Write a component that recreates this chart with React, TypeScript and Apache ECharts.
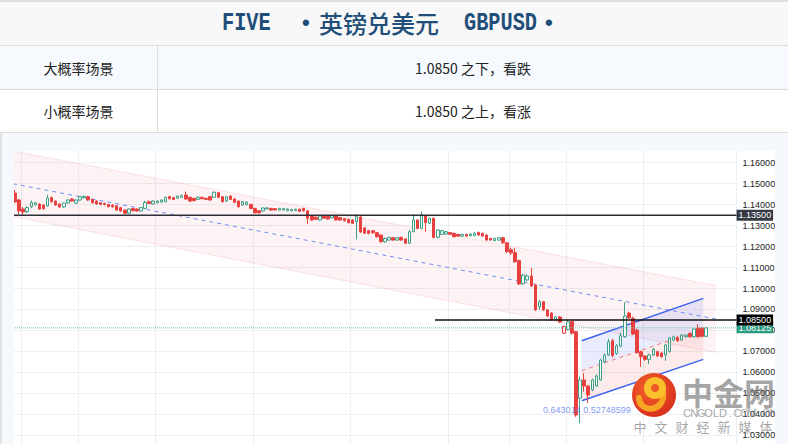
import React, { useEffect, useRef } from "react";
import * as echarts from "echarts";

// [open, close, low, high] per bar
const ohlc: number[][] = [
  [1.1455, 1.1413, 1.1410, 1.1470],
  [1.1422, 1.1370, 1.1355, 1.1427],
  [1.1379, 1.1365, 1.1351, 1.1389],
  [1.1367, 1.1386, 1.1360, 1.1392],
  [1.1390, 1.1410, 1.1385, 1.1420],
  [1.1399, 1.1409, 1.1395, 1.1413],
  [1.1403, 1.1379, 1.1375, 1.1406],
  [1.1398, 1.1380, 1.1377, 1.1402],
  [1.1394, 1.1432, 1.1390, 1.1446],
  [1.1433, 1.1414, 1.1410, 1.1440],
  [1.1417, 1.1398, 1.1394, 1.1420],
  [1.1403, 1.1389, 1.1385, 1.1406],
  [1.1389, 1.1408, 1.1385, 1.1410],
  [1.1408, 1.1422, 1.1405, 1.1425],
  [1.1427, 1.1417, 1.1415, 1.1430],
  [1.1407, 1.1422, 1.1404, 1.1425],
  [1.1422, 1.1438, 1.1418, 1.1442],
  [1.1433, 1.1438, 1.1430, 1.1445],
  [1.1438, 1.1422, 1.1418, 1.1442],
  [1.1425, 1.1409, 1.1405, 1.1428],
  [1.1417, 1.1403, 1.1400, 1.1420],
  [1.1409, 1.1401, 1.1398, 1.1412],
  [1.1406, 1.1401, 1.1396, 1.1409],
  [1.1401, 1.1390, 1.1387, 1.1404],
  [1.1398, 1.1390, 1.1385, 1.1402],
  [1.1395, 1.1374, 1.1370, 1.1398],
  [1.1385, 1.1370, 1.1366, 1.1390],
  [1.1374, 1.1359, 1.1355, 1.1377],
  [1.1359, 1.1379, 1.1356, 1.1382],
  [1.1382, 1.1371, 1.1368, 1.1385],
  [1.1379, 1.1370, 1.1366, 1.1383],
  [1.1370, 1.1386, 1.1366, 1.1389],
  [1.1382, 1.1411, 1.1378, 1.1418],
  [1.1414, 1.1406, 1.1403, 1.1420],
  [1.1403, 1.1417, 1.1400, 1.1420],
  [1.1409, 1.1417, 1.1406, 1.1420],
  [1.1412, 1.1422, 1.1409, 1.1425],
  [1.1414, 1.1435, 1.1411, 1.1438],
  [1.1438, 1.1428, 1.1425, 1.1442],
  [1.1433, 1.1425, 1.1422, 1.1436],
  [1.1430, 1.1441, 1.1427, 1.1444],
  [1.1435, 1.1444, 1.1432, 1.1447],
  [1.1446, 1.1427, 1.1423, 1.1462],
  [1.1435, 1.1417, 1.1413, 1.1438],
  [1.1430, 1.1419, 1.1415, 1.1433],
  [1.1425, 1.1435, 1.1422, 1.1438],
  [1.1435, 1.1428, 1.1425, 1.1438],
  [1.1430, 1.1425, 1.1422, 1.1433],
  [1.1438, 1.1422, 1.1419, 1.1441],
  [1.1435, 1.1459, 1.1432, 1.1463],
  [1.1457, 1.1435, 1.1432, 1.1460],
  [1.1438, 1.1414, 1.1410, 1.1441],
  [1.1417, 1.1438, 1.1413, 1.1441],
  [1.1441, 1.1425, 1.1422, 1.1444],
  [1.1427, 1.1411, 1.1408, 1.1430],
  [1.1417, 1.1390, 1.1386, 1.1420],
  [1.1398, 1.1414, 1.1395, 1.1417],
  [1.1400, 1.1412, 1.1397, 1.1416],
  [1.1401, 1.1382, 1.1378, 1.1404],
  [1.1382, 1.1361, 1.1358, 1.1385],
  [1.1371, 1.1361, 1.1357, 1.1374],
  [1.1370, 1.1384, 1.1366, 1.1387],
  [1.1380, 1.1384, 1.1377, 1.1388],
  [1.1382, 1.1374, 1.1371, 1.1385],
  [1.1381, 1.1375, 1.1372, 1.1384],
  [1.1374, 1.1382, 1.1371, 1.1385],
  [1.1375, 1.1381, 1.1372, 1.1385],
  [1.1371, 1.1379, 1.1368, 1.1382],
  [1.1371, 1.1377, 1.1368, 1.1380],
  [1.1372, 1.1378, 1.1369, 1.1381],
  [1.1378, 1.1368, 1.1365, 1.1381],
  [1.1382, 1.1371, 1.1367, 1.1385],
  [1.1370, 1.1335, 1.1308, 1.1375],
  [1.1346, 1.1327, 1.1322, 1.1350],
  [1.1340, 1.1330, 1.1327, 1.1343],
  [1.1327, 1.1346, 1.1324, 1.1349],
  [1.1346, 1.1335, 1.1332, 1.1349],
  [1.1343, 1.1332, 1.1329, 1.1346],
  [1.1337, 1.1347, 1.1334, 1.1350],
  [1.1346, 1.1327, 1.1324, 1.1349],
  [1.1338, 1.1327, 1.1324, 1.1341],
  [1.1333, 1.1323, 1.1320, 1.1336],
  [1.1330, 1.1314, 1.1311, 1.1333],
  [1.1327, 1.1311, 1.1308, 1.1330],
  [1.1319, 1.1343, 1.1234, 1.1355],
  [1.1341, 1.1270, 1.1265, 1.1350],
  [1.1289, 1.1264, 1.1260, 1.1292],
  [1.1276, 1.1263, 1.1258, 1.1280],
  [1.1275, 1.1266, 1.1262, 1.1279],
  [1.1266, 1.1247, 1.1243, 1.1269],
  [1.1255, 1.1223, 1.1219, 1.1258],
  [1.1223, 1.1239, 1.1219, 1.1243],
  [1.1231, 1.1244, 1.1228, 1.1247],
  [1.1242, 1.1231, 1.1228, 1.1245],
  [1.1231, 1.1242, 1.1228, 1.1245],
  [1.1244, 1.1231, 1.1228, 1.1247],
  [1.1236, 1.1216, 1.1212, 1.1239],
  [1.1216, 1.1271, 1.1212, 1.1279],
  [1.1271, 1.1327, 1.1268, 1.1355],
  [1.1327, 1.1287, 1.1283, 1.1331],
  [1.1287, 1.1351, 1.1283, 1.1366],
  [1.1346, 1.1314, 1.1271, 1.1350],
  [1.1311, 1.1335, 1.1308, 1.1338],
  [1.1335, 1.1244, 1.1239, 1.1338],
  [1.1244, 1.1279, 1.1240, 1.1283],
  [1.1258, 1.1276, 1.1255, 1.1280],
  [1.1260, 1.1271, 1.1257, 1.1275],
  [1.1267, 1.1259, 1.1256, 1.1270],
  [1.1263, 1.1247, 1.1244, 1.1267],
  [1.1258, 1.1250, 1.1247, 1.1261],
  [1.1250, 1.1258, 1.1247, 1.1261],
  [1.1258, 1.1250, 1.1247, 1.1261],
  [1.1252, 1.1260, 1.1249, 1.1263],
  [1.1252, 1.1263, 1.1249, 1.1270],
  [1.1267, 1.1255, 1.1252, 1.1272],
  [1.1263, 1.1250, 1.1247, 1.1266],
  [1.1255, 1.1231, 1.1228, 1.1258],
  [1.1239, 1.1231, 1.1228, 1.1242],
  [1.1228, 1.1239, 1.1225, 1.1242],
  [1.1231, 1.1242, 1.1228, 1.1245],
  [1.1242, 1.1218, 1.1215, 1.1247],
  [1.1218, 1.1176, 1.1170, 1.1221],
  [1.1185, 1.1170, 1.1160, 1.1195],
  [1.1171, 1.1128, 1.1122, 1.1193],
  [1.1133, 1.1022, 1.1017, 1.1138],
  [1.1022, 1.1064, 1.1017, 1.1070],
  [1.1041, 1.1060, 1.1035, 1.1068],
  [1.1060, 1.1012, 1.1008, 1.1098],
  [1.1017, 1.0898, 1.0893, 1.1020],
  [1.0913, 1.0937, 1.0898, 1.0945],
  [1.0937, 1.0898, 1.0893, 1.0940],
  [1.0898, 1.0869, 1.0865, 1.0902],
  [1.0883, 1.0850, 1.0846, 1.0887],
  [1.0850, 1.0864, 1.0846, 1.0868],
  [1.0864, 1.0840, 1.0836, 1.0868],
  [1.0787, 1.0819, 1.0783, 1.0822],
  [1.0804, 1.0842, 1.0800, 1.0852],
  [1.0842, 1.0787, 1.0780, 1.0846],
  [1.0794, 1.0397, 1.0388, 1.0798],
  [1.0477, 1.0564, 1.0357, 1.0580],
  [1.0564, 1.0535, 1.0508, 1.0596],
  [1.0535, 1.0492, 1.0454, 1.0540],
  [1.0516, 1.0564, 1.0510, 1.0570],
  [1.0535, 1.0583, 1.0530, 1.0590],
  [1.0564, 1.0659, 1.0560, 1.0665],
  [1.0651, 1.0683, 1.0645, 1.0690],
  [1.0683, 1.0746, 1.0678, 1.0760],
  [1.0751, 1.0680, 1.0672, 1.0760],
  [1.0690, 1.0727, 1.0685, 1.0735],
  [1.0725, 1.0775, 1.0720, 1.0790],
  [1.0770, 1.0869, 1.0765, 1.0935],
  [1.0883, 1.0860, 1.0855, 1.0890],
  [1.0858, 1.0783, 1.0778, 1.0866],
  [1.0802, 1.0694, 1.0690, 1.0808],
  [1.0699, 1.0675, 1.0627, 1.0705],
  [1.0678, 1.0662, 1.0655, 1.0682],
  [1.0662, 1.0683, 1.0640, 1.0690],
  [1.0683, 1.0711, 1.0678, 1.0716],
  [1.0699, 1.0678, 1.0674, 1.0703],
  [1.0692, 1.0675, 1.0670, 1.0696],
  [1.0683, 1.0731, 1.0655, 1.0735],
  [1.0699, 1.0764, 1.0695, 1.0768],
  [1.0754, 1.0770, 1.0750, 1.0775],
  [1.0767, 1.0751, 1.0747, 1.0772],
  [1.0754, 1.0778, 1.0750, 1.0782],
  [1.0770, 1.0778, 1.0766, 1.0782],
  [1.0786, 1.0770, 1.0766, 1.0790],
  [1.0770, 1.0807, 1.0766, 1.0812],
  [1.0812, 1.0770, 1.0766, 1.0831],
  [1.0812, 1.0772, 1.0768, 1.0816],
  [1.0772, 1.08125, 1.0768, 1.0816],
];

const futureSlots = 7;
const hollowDownBars = [135];
const vGridAt = [2, 16, 35, 59, 83, 107, 122, 136, 155];

// channels: [xStart, upperStart, lowerStart, xEnd, upperEnd, lowerEnd]
const descChannel = [-0.5, 1.1656, 1.1343, 172.4, 1.1014, 1.0695];
const riseChannel = [139.4, 1.0751, 1.0465, 169.3, 1.0953, 1.0662];

const resistanceLevel = 1.135;
const pivotLevel = 1.085;
const pivotFrom = 103.3;
const fibText = "0.643014 0.52748599";
const fibAt = [129.9, 1.0422];

const yMin = 1.02;
const yMax = 1.17;
const yStep = 0.01;

const UP = "#3f9f86";
const DOWN = "#e8403f";

const brandUrl = "CNGOLD.COM.CN";
const brandSlogan = "中文财经新媒体";

export default function App() {
  const ref = useRef<HTMLDivElement>(null);

  useEffect(() => {
    if (!ref.current) return;
    const chart = echarts.init(ref.current, undefined, { renderer: "svg" });
    const nCat = ohlc.length + futureSlots;
    const categories = Array.from({ length: nCat }, (_, i) => `K${i + 1}`);
    const xMax = nCat - 0.5;
    const lastClose = ohlc[ohlc.length - 1][1];

    const band =
      (topFill: string, botFill: string, edge: string, edgeW: number, mid: string, midW: number) =>
      (_p: any, api: any) => {
        const x1 = api.value(0);
        const x2 = api.value(3);
        const u1 = api.coord([x1, api.value(1)]);
        const l1 = api.coord([x1, api.value(2)]);
        const u2 = api.coord([x2, api.value(4)]);
        const l2 = api.coord([x2, api.value(5)]);
        const m1 = [(u1[0] + l1[0]) / 2, (u1[1] + l1[1]) / 2];
        const m2 = [(u2[0] + l2[0]) / 2, (u2[1] + l2[1]) / 2];
        return {
          type: "group",
          silent: true,
          children: [
            { type: "polygon", shape: { points: [u1, u2, m2, m1] }, style: { fill: topFill } },
            { type: "polygon", shape: { points: [m1, m2, l2, l1] }, style: { fill: botFill } },
            { type: "line", shape: { x1: u1[0], y1: u1[1], x2: u2[0], y2: u2[1] }, style: { stroke: edge, lineWidth: edgeW } },
            { type: "line", shape: { x1: l1[0], y1: l1[1], x2: l2[0], y2: l2[1] }, style: { stroke: edge, lineWidth: edgeW } },
            { type: "line", shape: { x1: m1[0], y1: m1[1], x2: m2[0], y2: m2[1] }, style: { stroke: mid, lineWidth: midW, lineDash: [4, 4] } },
          ],
        };
      };

    const boxLabel = (text: string, bg: string) => ({
      show: true,
      formatter: () => text,
      color: "#fff",
      backgroundColor: bg,
      padding: [1, 2, 1, 2],
      fontSize: 9,
      fontFamily: "Liberation Sans, Arial",
      distance: 0,
    });

    const grey = "rgba(105,105,105,0.6)";
    const spaced = (text: string, x0: number, step: number, y: number, size: number, font: string) =>
      text.split("").map((ch, k) => ({
        type: "text",
        z: 100,
        x: x0 + k * step,
        y,
        style: { text: ch, fontSize: size, fill: grey, fontFamily: font, align: "center", verticalAlign: "middle" },
      }));

    chart.setOption({
      animation: false,
      grid: { left: 13, top: 141.73, width: 723.6, height: 314.55 },
      xAxis: [
        {
          type: "category",
          data: categories,
          boundaryGap: true,
          axisLine: { show: false },
          axisTick: { show: false },
          axisLabel: { show: false },
          splitLine: {
            show: true,
            interval: (i: number) => vGridAt.includes(i),
            lineStyle: { color: "#eeeff1", width: 1 },
          },
        },
        { type: "value", min: -0.5, max: xMax, show: false },
      ],
      yAxis: {
        type: "value",
        position: "right",
        min: yMin,
        max: yMax,
        interval: yStep,
        axisLine: { show: false },
        axisTick: { show: false },
        splitLine: { lineStyle: { color: "#eeeff1" } },
        axisLabel: {
          color: "#222",
          fontSize: 9,
          margin: 6,
          fontFamily: "Liberation Sans, Arial",
          formatter: (v: number) => v.toFixed(5),
        },
      },
      graphic: [
        { type: "circle", z: 100, shape: { cx: 654, cy: 395, r: 22 }, style: { fill: { type: "radial", x: 0.4, y: 0.35, r: 0.75, colorStops: [{ offset: 0, color: "#f4622a" }, { offset: 1, color: "#d42a1c" }] } } },
        { type: "bezierCurve", z: 101, shape: { x1: 663, y1: 392, cpx1: 666, cpy1: 412, cpx2: 640, cpy2: 414, x2: 639, y2: 398 }, style: { stroke: "#f7a624", lineWidth: 6, fill: "none", lineCap: "round" } },
        { type: "arc", z: 102, shape: { cx: 655, cy: 388, r: 7.5, startAngle: 0, endAngle: Math.PI * 2 }, style: { stroke: "#f9c02c", lineWidth: 7, fill: "none" } },
        { type: "text", z: 100, x: 682, y: 391, style: { text: "中金网", fontSize: 31, fontWeight: "bold", fill: grey, fontFamily: "Noto Sans CJK SC", verticalAlign: "middle" } },
        ...spaced(brandUrl, 687, 7.2, 413, 11, "Liberation Sans, Arial"),
        ...spaced(brandSlogan, 640, 21, 426, 13, "Noto Sans CJK SC"),
      ],
      series: [
        {
          type: "custom",
          xAxisIndex: 1,
          yAxisIndex: 0,
          silent: true,
          encode: { x: [0, 3], y: [1, 2, 4, 5] },
          data: [descChannel],
          renderItem: band("rgba(240,90,100,0.07)", "rgba(240,90,100,0.07)", "rgba(240,110,120,0.18)", 1, "#6f8ef5", 1),
        },
        {
          type: "custom",
          xAxisIndex: 1,
          yAxisIndex: 0,
          silent: true,
          encode: { x: [0, 3], y: [1, 2, 4, 5] },
          data: [riseChannel],
          renderItem: band("rgba(80,105,240,0.13)", "rgba(240,90,100,0.12)", "#3d63f0", 1.5, "rgba(240,100,110,0.85)", 1),
        },
        {
          type: "scatter",
          xAxisIndex: 1,
          yAxisIndex: 0,
          silent: true,
          symbolSize: 0,
          data: [fibAt],
          label: { show: true, position: "right", distance: 0, formatter: () => fibText, color: "#5d7cf0", fontSize: 9, fontFamily: "Liberation Sans, Arial" },
        },
        {
          type: "candlestick",
          xAxisIndex: 0,
          yAxisIndex: 0,
          barWidth: 3,
          data: ohlc.map((d, i) =>
            hollowDownBars.includes(i) ? { value: d, itemStyle: { color: "#fff", borderColor: DOWN } } : d
          ),
          itemStyle: { color: "#f3fbf8", color0: DOWN, borderColor: UP, borderColor0: DOWN, borderWidth: 1 },
        },
        {
          type: "line",
          xAxisIndex: 1,
          yAxisIndex: 0,
          silent: true,
          symbol: "none",
          data: [[-0.5, lastClose], [xMax, lastClose]],
          lineStyle: { color: "#6cc3ab", width: 1, type: "dotted" },
          endLabel: boxLabel(lastClose.toFixed(5), "#2a9a80"),
        },
        {
          type: "line",
          xAxisIndex: 1,
          yAxisIndex: 0,
          silent: true,
          symbol: "none",
          data: [[-0.5, resistanceLevel], [xMax, resistanceLevel]],
          lineStyle: { color: "#2b2e36", width: 1.5 },
          endLabel: boxLabel(resistanceLevel.toFixed(5), "#363a45"),
        },
        {
          type: "line",
          xAxisIndex: 1,
          yAxisIndex: 0,
          silent: true,
          symbol: "none",
          data: [[pivotFrom, pivotLevel], [xMax, pivotLevel]],
          lineStyle: { color: "#111", width: 1.5 },
          endLabel: boxLabel(pivotLevel.toFixed(5), "#000"),
        },
      ],
    });
    return () => chart.dispose();
  }, []);

  const abs = (s: React.CSSProperties): React.CSSProperties => ({ position: "absolute", ...s });
  const titleColor = "#1f4e79";
  const latin: React.CSSProperties = {
    fontFamily: "Liberation Mono, monospace",
    fontSize: 26,
    fontWeight: "bold",
    color: titleColor,
    transform: "scaleX(0.78)",
    transformOrigin: "left center",
    display: "inline-block",
  };
  const cjk = '"Noto Sans CJK SC", sans-serif';
  const cell: React.CSSProperties = {
    display: "flex",
    alignItems: "center",
    justifyContent: "center",
    fontFamily: cjk,
    fontSize: 14,
    color: "#222",
  };
  const dot: React.CSSProperties = { fontSize: 22, color: titleColor, fontFamily: "Liberation Sans, Arial", fontWeight: "bold" };

  return (
    <div style={{ position: "fixed", left: 0, top: 0, width: 788, height: 444, overflow: "hidden", background: "#fff" }}>
      <div ref={ref} style={abs({ left: 0, top: 0, width: 788, height: 470 })} />
      <div style={abs({ left: 0, top: 0, width: 788, height: 2, background: "#dedede", zIndex: 2 })} />
      <div style={abs({ left: 0, top: 2, width: 788, height: 43, background: "#f8f8f8", zIndex: 2 })}>
        <span style={abs({ ...latin, left: 222, top: 6, lineHeight: "30px" })}>FIVE</span>
        <span style={abs({ ...dot, left: 302, top: 6, lineHeight: "30px" })}>•</span>
        <span style={abs({ left: 319, top: 6, lineHeight: "30px", fontSize: 24, color: titleColor, fontFamily: cjk, fontWeight: 500 })}>英镑兑美元</span>
        <span style={abs({ ...latin, left: 464, top: 6, lineHeight: "30px" })}>GBPUSD</span>
        <span style={abs({ ...dot, left: 545, top: 6, lineHeight: "30px" })}>•</span>
      </div>
      <div style={abs({ left: 0, top: 45, width: 788, height: 1, background: "#dcdcdc", zIndex: 2 })} />
      <div style={abs({ left: 0, top: 46, width: 788, height: 43, background: "#f6f9fd", zIndex: 2 })}>
        <div style={abs({ ...cell, left: 0, top: 0, width: 157, height: 43 })}>大概率场景</div>
        <div style={abs({ ...cell, left: 158, top: 0, width: 630, height: 43 })}>1.0850 之下，看跌</div>
      </div>
      <div style={abs({ left: 0, top: 89, width: 788, height: 1, background: "#dcdcdc", zIndex: 2 })} />
      <div style={abs({ left: 0, top: 90, width: 788, height: 42, background: "#ffffff", zIndex: 2 })}>
        <div style={abs({ ...cell, left: 0, top: 0, width: 157, height: 42 })}>小概率场景</div>
        <div style={abs({ ...cell, left: 158, top: 0, width: 630, height: 42 })}>1.0850 之上，看涨</div>
      </div>
      <div style={abs({ left: 157, top: 46, width: 1, height: 86, background: "#dcdcdc", zIndex: 3 })} />
      <div style={abs({ left: 0, top: 132, width: 788, height: 1, background: "#dcdcdc", zIndex: 2 })} />
      <div style={abs({ left: 0, top: 133, width: 788, height: 18, background: "#f5f8fc", zIndex: 2 })} />
      <div style={abs({ left: 0, top: 133, width: 14, height: 311, background: "#f5f8fc", zIndex: 2 })} />
      <div style={abs({ left: 0, top: 133, width: 2, height: 311, background: "#e2e2e2", zIndex: 3 })} />
      <div style={abs({ left: 775, top: 133, width: 13, height: 311, background: "#f5f8fc", zIndex: 2 })} />
    </div>
  );
}
